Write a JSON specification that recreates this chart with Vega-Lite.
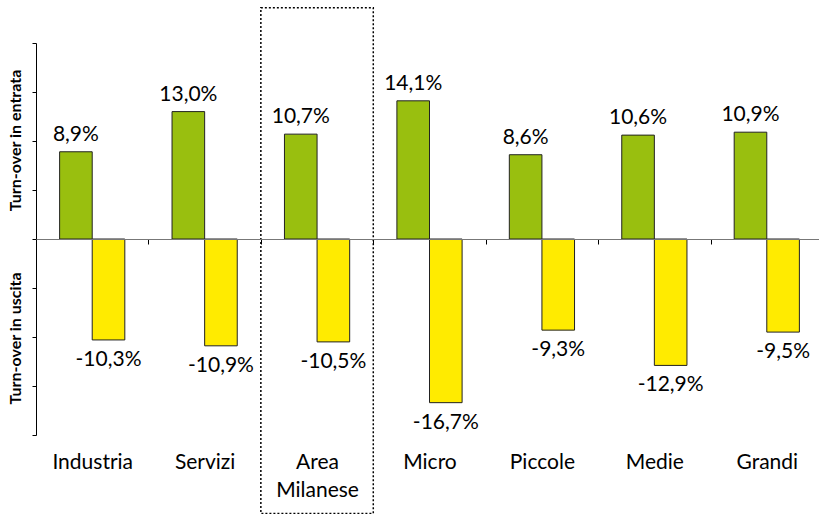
{
  "$schema": "https://vega.github.io/schema/vega-lite/v6.json",
  "width": 787,
  "height": 392,
  "autosize": {"type": "none"},
  "padding": {"left": 36, "top": 43, "right": 0, "bottom": 79},
  "background": "white",
  "config": {
    "view": {"stroke": null},
    "font": "Lato",
    "locale": {"number": {"decimal": ",", "thousands": ".", "grouping": [3], "currency": ["€", ""], "minus": "-"}}
  },
  "data": {
    "values": [
      {"cat": "Industria", "type": "Entrata", "value": 0.089},
      {"cat": "Industria", "type": "Uscita", "value": -0.103},
      {"cat": "Servizi", "type": "Entrata", "value": 0.130},
      {"cat": "Servizi", "type": "Uscita", "value": -0.109},
      {"cat": "Area Milanese", "type": "Entrata", "value": 0.107},
      {"cat": "Area Milanese", "type": "Uscita", "value": -0.105},
      {"cat": "Micro", "type": "Entrata", "value": 0.141},
      {"cat": "Micro", "type": "Uscita", "value": -0.167},
      {"cat": "Piccole", "type": "Entrata", "value": 0.086},
      {"cat": "Piccole", "type": "Uscita", "value": -0.093},
      {"cat": "Medie", "type": "Entrata", "value": 0.106},
      {"cat": "Medie", "type": "Uscita", "value": -0.129},
      {"cat": "Grandi", "type": "Entrata", "value": 0.109},
      {"cat": "Grandi", "type": "Uscita", "value": -0.095}
    ]
  },
  "layer": [
    {
      "transform": [{"filter": "datum.cat == 'Area Milanese' && datum.type == 'Entrata'"}],
      "mark": {"type": "rect", "filled": false, "stroke": "#000", "strokeWidth": 1.5, "strokeDash": [2, 2], "clip": false},
      "encoding": {
        "x": {
          "field": "cat", "type": "nominal",
          "scale": {"domain": ["Industria", "Servizi", "Area Milanese", "Micro", "Piccole", "Medie", "Grandi"], "paddingInner": 0, "paddingOuter": 0},
          "axis": {
            "orient": "bottom", "offset": -196, "title": null,
            "domainColor": "#777", "domainWidth": 1.2, "tickColor": "#000", "tickSize": 5, "tickBand": "extent",
            "labelPadding": 207, "labelFontSize": 21, "labelColor": "#000", "labelBaseline": "top", "labelAngle": 0,
            "labelLineHeight": 28, "labelFont": "Lato",
            "labelExpr": "datum.label == 'Area Milanese' ? ['Area', 'Milanese'] : datum.label"
          }
        },
        "y": {
          "datum": 0.236, "type": "quantitative",
          "scale": {"domain": [-0.2, 0.2], "nice": false},
          "axis": {
            "orient": "left", "domain": false, "ticks": false, "labels": false, "grid": false,
            "title": "Turn-over in uscita", "titleX": -21, "titleY": 295, "titleAngle": -90,
            "titleAlign": "center", "titleBaseline": "middle", "titleFontSize": 16, "titleFontWeight": "bold", "titleColor": "#000", "titleFont": "Lato"
          }
        },
        "y2": {"datum": -0.28}
      }
    },
    {
      "encoding": {
        "x": {
          "field": "cat", "type": "nominal",
          "sort": ["Industria", "Servizi", "Area Milanese", "Micro", "Piccole", "Medie", "Grandi"],
          "scale": {"paddingInner": 0.42, "paddingOuter": 0.21},
          "axis": null
        },
        "xOffset": {"field": "type", "type": "nominal", "sort": ["Entrata", "Uscita"], "scale": {"paddingInner": 0, "paddingOuter": 0}},
        "y": {
          "field": "value", "type": "quantitative",
          "scale": {"domain": [-0.2, 0.2], "nice": false},
          "axis": {
            "orient": "left", "values": [-0.2, -0.15, -0.1, -0.05, 0, 0.05, 0.1, 0.15, 0.2],
            "labels": false, "grid": false, "domainColor": "#000", "tickColor": "#000", "tickSize": 4,
            "title": "Turn-over in entrata", "titleX": -21, "titleY": 97, "titleAngle": -90,
            "titleAlign": "center", "titleBaseline": "middle", "titleFontSize": 16, "titleFontWeight": "bold", "titleColor": "#000", "titleFont": "Lato"
          }
        }
      },
      "layer": [
        {
          "mark": {"type": "bar", "stroke": "#222", "strokeWidth": 1},
          "encoding": {
            "color": {"field": "type", "type": "nominal", "scale": {"domain": ["Entrata", "Uscita"], "range": ["#99BF0F", "#FFEB00"]}, "legend": null}
          }
        },
        {
          "transform": [{"filter": "datum.type == 'Entrata'"}],
          "mark": {"type": "text", "baseline": "alphabetic", "dy": -11, "fontSize": 21, "color": "#000", "font": "Lato"},
          "encoding": {"text": {"field": "value", "type": "quantitative", "format": ".1%"}}
        },
        {
          "transform": [{"filter": "datum.type == 'Uscita'"}],
          "mark": {"type": "text", "baseline": "top", "dy": 9, "fontSize": 21, "color": "#000", "font": "Lato"},
          "encoding": {"text": {"field": "value", "type": "quantitative", "format": ".1%"}}
        }
      ]
    }
  ],
  "resolve": {"scale": {"x": "independent", "y": "independent"}, "axis": {"x": "independent", "y": "independent"}}
}
